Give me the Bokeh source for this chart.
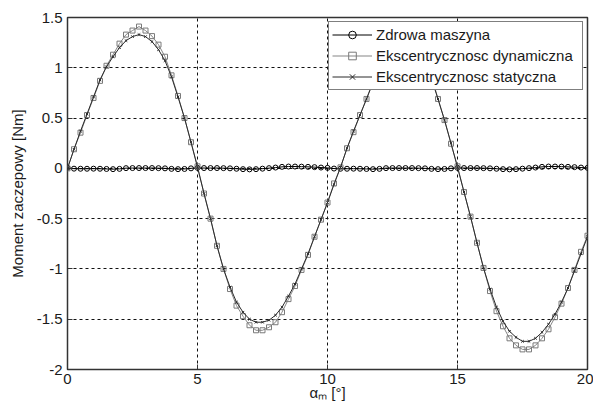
from bokeh.plotting import figure
from bokeh.models import FixedTicker, Range1d
from bokeh.embed import file_html
from bokeh.resources import INLINE

# --- data ---
angle = [0.0, 0.25, 0.5, 0.75, 1.0, 1.25, 1.5, 1.75, 2.0, 2.25, 2.5, 2.75, 3.0, 3.25, 3.5, 3.75,
         4.0, 4.25, 4.5, 4.75, 5.0, 5.25, 5.5, 5.75, 6.0, 6.25, 6.5, 6.75, 7.0, 7.25, 7.5, 7.75,
         8.0, 8.25, 8.5, 8.75, 9.0, 9.25, 9.5, 9.75, 10.0, 10.25, 10.5, 10.75, 11.0, 11.25, 11.5,
         11.75, 12.0, 12.25, 12.5, 12.75, 13.0, 13.25, 13.5, 13.75, 14.0, 14.25, 14.5, 14.75, 15.0,
         15.25, 15.5, 15.75, 16.0, 16.25, 16.5, 16.75, 17.0, 17.25, 17.5, 17.75, 18.0, 18.25, 18.5,
         18.75, 19.0, 19.25, 19.5, 19.75, 20.0]

zdrowa = [0.005, -0.003, -0.004, -0.004, -0.003, -0.004, -0.006, -0.008, -0.005, 0.002, 0.003,
          0.003, 0.003, 0.003, 0.002, 0.0, -0.005, -0.008, -0.006, 0.0, 0.005,
          0.003, 0.003, 0.003, 0.002, 0.0, -0.004, -0.008, -0.010, -0.008, -0.003,
          0.002, 0.008, 0.015, 0.018, 0.018, 0.017, 0.015, 0.012, 0.008, 0.005,
          -0.002, -0.004, -0.004, -0.003, -0.004, -0.006, -0.008, -0.005, 0.002, 0.003,
          0.003, 0.003, 0.003, 0.002, 0.0, -0.005, -0.008, -0.006, 0.0, 0.005,
          0.003, 0.003, 0.003, 0.002, 0.0, -0.004, -0.008, -0.010, -0.008, -0.003,
          0.002, 0.008, 0.015, 0.018, 0.018, 0.017, 0.015, 0.012, 0.008, 0.005]

dynamiczna = [0.00, 0.19, 0.355, 0.53, 0.70, 0.87, 1.02, 1.13, 1.24, 1.33, 1.37, 1.41, 1.37,
              1.315, 1.23, 1.11, 0.925, 0.72, 0.50, 0.26, 0.02,
              -0.25, -0.50, -0.77, -1.00, -1.20, -1.365, -1.47, -1.56, -1.61, -1.61,
              -1.58, -1.53, -1.43, -1.30, -1.17, -1.01, -0.86, -0.68, -0.51, -0.34,
              -0.15, 0.01, 0.20, 0.36, 0.53, 0.69, 0.87, 1.01, 1.12, 1.22,
              1.28, 1.30, 1.28, 1.21, 1.10, 0.92, 0.69, 0.48, 0.245, 0.02,
              -0.235, -0.48, -0.74, -0.99, -1.22, -1.42, -1.57, -1.69, -1.76, -1.80,
              -1.80, -1.76, -1.69, -1.60, -1.48, -1.345, -1.19, -1.01, -0.83, -0.67]

statyczna = [0.00, 0.19, 0.37, 0.54, 0.71, 0.88, 1.01, 1.11, 1.20, 1.27, 1.31, 1.33, 1.31,
             1.26, 1.18, 1.07, 0.91, 0.71, 0.50, 0.26, 0.01,
             -0.25, -0.50, -0.77, -1.00, -1.18, -1.33, -1.43, -1.50, -1.53, -1.53,
             -1.51, -1.46, -1.38, -1.27, -1.15, -1.00, -0.85, -0.68, -0.51, -0.34,
             -0.16, 0.01, 0.20, 0.37, 0.53, 0.69, 0.85, 0.98, 1.08, 1.16,
             1.21, 1.23, 1.21, 1.15, 1.05, 0.89, 0.69, 0.48, 0.25, 0.01,
             -0.235, -0.48, -0.74, -0.99, -1.20, -1.38, -1.52, -1.62, -1.68, -1.72,
             -1.72, -1.69, -1.63, -1.55, -1.45, -1.33, -1.19, -1.02, -0.85, -0.68]

x_ticks = [0, 5, 10, 15, 20]
x_tick_labels = ["0", "5", "10", "15", "20"]
y_ticks = [-2, -1.5, -1, -0.5, 0, 0.5, 1, 1.5]
y_tick_labels = ["-2", "-1.5", "-1", "-0.5", "0", "0.5", "1", "1.5"]

names = ["Zdrowa maszyna", "Ekscentrycznosc dynamiczna", "Ekscentrycznosc statyczna"]
x_title = "\u03b1\u2098 [\u00b0]"
y_title = "Moment zaczepowy [Nm]"

FONT = "Liberation Sans"
TXT = "#1a1a1a"

p = figure(width=593, height=405, x_range=Range1d(0, 20), y_range=Range1d(-2, 1.5),
           output_backend="svg", toolbar_location=None,
           min_border_left=67, min_border_right=6, min_border_top=17, min_border_bottom=36)
p.background_fill_color = "white"
p.border_fill_color = "white"
p.outline_line_color = "#333333"
p.outline_line_width = 1.5

for ax in (p.xaxis[0], p.yaxis[0]):
    ax.axis_line_color = None
    ax.major_tick_in = 5
    ax.major_tick_out = 0
    ax.minor_tick_line_color = None
    ax.major_tick_line_color = "#333333"
    ax.major_label_text_font = FONT
    ax.major_label_text_font_size = "15px"
    ax.major_label_text_color = TXT
    ax.axis_label_text_font = FONT
    ax.axis_label_text_font_size = "15px"
    ax.axis_label_text_font_style = "normal"
    ax.axis_label_text_color = TXT

p.xaxis.ticker = FixedTicker(ticks=x_ticks)
p.xaxis.major_label_overrides = dict(zip(x_ticks, x_tick_labels))
p.xaxis.major_label_standoff = 4
p.xaxis.axis_label = x_title
p.xaxis.axis_label_standoff = -3

p.yaxis.ticker = FixedTicker(ticks=y_ticks)
p.yaxis.major_label_overrides = dict(zip(y_ticks, y_tick_labels))
p.yaxis.major_label_standoff = 5
p.yaxis.axis_label = y_title
p.yaxis.axis_label_standoff = 8

for g in (p.xgrid[0], p.ygrid[0]):
    g.grid_line_color = "#111111"
    g.grid_line_dash = "3 3"
    g.grid_line_width = 1
p.xgrid.ticker = FixedTicker(ticks=x_ticks)
p.ygrid.ticker = FixedTicker(ticks=y_ticks)

# series
p.line(angle, zdrowa, line_color="black", line_width=1, legend_label=names[0])
p.scatter(angle, zdrowa, marker="circle", size=5, line_color="black", fill_color=None,
          line_width=1, legend_label=names[0])

p.line(angle, dynamiczna, line_color="#858585", line_width=1, legend_label=names[1])
p.scatter(angle, dynamiczna, marker="square", size=5, line_color="#7a7a7a", fill_color=None,
          line_width=1, legend_label=names[1])

p.line(angle, statyczna, line_color="#2a2a2a", line_width=1, legend_label=names[2])
p.scatter(angle, statyczna, marker="x", size=3.5, line_color="#2a2a2a", line_width=1,
          legend_label=names[2])

lg = p.legend[0]
lg.location = "top_right"
lg.margin = 4
lg.padding = 3
lg.spacing = 2
lg.glyph_width = 40
lg.glyph_height = 19
lg.label_height = 19
lg.label_width = 203
lg.label_standoff = 4
lg.label_text_font = FONT
lg.label_text_font_size = "15px"
lg.label_text_color = TXT
lg.border_line_color = "black"
lg.border_line_width = 1
lg.background_fill_color = "white"
lg.background_fill_alpha = 1.0

open("out.html", "w").write(file_html(p, INLINE))
